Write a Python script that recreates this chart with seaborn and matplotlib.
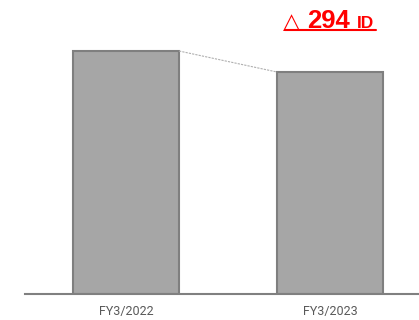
import matplotlib
matplotlib.use("Agg")
import matplotlib.pyplot as plt
import seaborn as sns
import pandas as pd
from matplotlib.lines import Line2D

categories = ["FY3/2022", "FY3/2023"]
values = [3400, 3106]
diff_label = "294"
unit_label = "ID"

sns.set_theme(style="white")
plt.rcParams['font.family'] = ['Roboto', 'DejaVu Sans']

df = pd.DataFrame({"cat": categories, "val": values})

fig = plt.figure(figsize=(4.19, 3.20), dpi=100)
ax = fig.add_axes([25/419, 26/320, 394/419, 294/320])

sns.barplot(data=df, x="cat", y="val", ax=ax, color="#a6a6a6",
            edgecolor="#7f7f7f", linewidth=1.5, width=0.52, saturation=1)

ax.set_xlim(-0.495, 1.436)
ax.set_ylim(0, values[0] * 294 / 243)

for s in ["top", "right", "left"]:
    ax.spines[s].set_visible(False)
ax.spines["bottom"].set_color("#808080")
ax.spines["bottom"].set_linewidth(1.5)
ax.set_yticks([])
ax.set_xlabel("")
ax.set_ylabel("")
ax.tick_params(axis="x", length=0, pad=8, labelsize=9, labelcolor="#595959")

# connector line between bar tops
bars = ax.patches
x0 = bars[0].get_x() + bars[0].get_width()
x1 = bars[1].get_x()
ax.plot([x0, x1], [values[0], values[1]], color="#b0b0b0", lw=0.8, ls=(0, (2, 1)))

red = "#ff0000"
base = 1 - 28/320
fig.text(283/419, base, "\u25b3", color=red, fontsize=16, fontweight="bold",
         family=["DejaVu Sans"], va="baseline", ha="left")
fig.text(307/419, base, diff_label, color=red, fontsize=18.5, fontweight="bold",
         family=["Liberation Sans", "DejaVu Sans"], va="baseline", ha="left")
fig.text(357/419, base, unit_label, color=red, fontsize=12.5, fontweight="bold",
         family=["Liberation Sans", "DejaVu Sans"], va="baseline", ha="left")
fig.add_artist(Line2D([285/419, 376/419], [1 - 30/320, 1 - 30/320],
                      color=red, lw=1.5, transform=fig.transFigure))

fig.savefig("out.png", dpi=100)
